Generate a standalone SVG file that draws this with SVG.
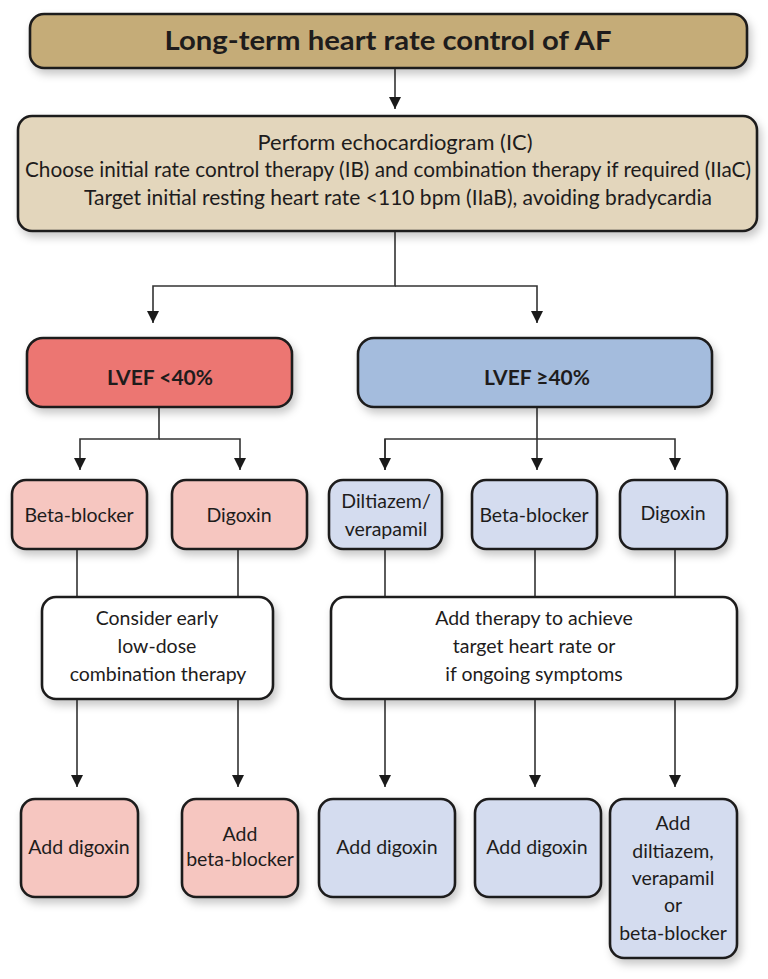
<svg xmlns="http://www.w3.org/2000/svg" width="768" height="979" viewBox="0 0 768 979">
<defs>
<filter id="sh" x="-20%" y="-20%" width="140%" height="150%">
<feDropShadow dx="3" dy="5" stdDeviation="4" flood-color="#000" flood-opacity="0.22"/>
</filter>
<marker id="ah" viewBox="0 0 12 12" refX="12" refY="6" markerWidth="12" markerHeight="12" markerUnits="userSpaceOnUse" orient="auto">
<path d="M0,0 L12,6 L0,12 Z" fill="#1a1a1a"/>
</marker>
</defs>
<style>
.box{stroke:#1e1c1c;stroke-width:2.6;filter:url(#sh)}
.t{font-family:Lato,"Open Sans",sans-serif;font-size:19.5px;fill:#1e1c1c;text-anchor:middle}
.b{font-weight:bold}
.big{font-size:27px}
.mid{font-size:20.5px}
.lv{font-size:21px}
.c{fill:none;stroke:#333;stroke-width:1.6}
.red{fill:#ec7672}
.blue{fill:#a4bcdd}
.pink{fill:#f6c6c0}
.lblue{fill:#d4dcef}
.white{fill:#fff}
</style>
<rect width="768" height="979" fill="#fff"/>
<g id="connectors">
<path class="c" d="M395,68 V109" marker-end="url(#ah)"/>
<path class="c" d="M395,231 V286 H153 V323" marker-end="url(#ah)"/>
<path class="c" d="M395,286 H537 V323" marker-end="url(#ah)"/>
<path class="c" d="M159,407 V439 H80 V470" marker-end="url(#ah)"/>
<path class="c" d="M159,439 H240 V470" marker-end="url(#ah)"/>
<path class="c" d="M537,407 V470" marker-end="url(#ah)"/>
<path class="c" d="M385,470 V439 H675 V470" marker-end="url(#ah)"/>
<path class="c" d="M385,439 V470" marker-end="url(#ah)"/>
<path class="c" d="M77,549 V597"/>
<path class="c" d="M238,549 V597"/>
<path class="c" d="M385,549 V597"/>
<path class="c" d="M535,549 V597"/>
<path class="c" d="M675,549 V597"/>
<path class="c" d="M77,699 V787" marker-end="url(#ah)"/>
<path class="c" d="M238,699 V787" marker-end="url(#ah)"/>
<path class="c" d="M385,699 V787" marker-end="url(#ah)"/>
<path class="c" d="M535,699 V787" marker-end="url(#ah)"/>
<path class="c" d="M675,699 V787" marker-end="url(#ah)"/>
</g>
<g id="title">
<rect class="box" x="30" y="14" width="717" height="54" rx="14" fill="#c5ac78"/>
<text class="t b big" x="388" y="50" textLength="447" lengthAdjust="spacingAndGlyphs">Long-term heart rate control of AF</text>
</g>
<g id="initial">
<rect class="box" x="18" y="116" width="739" height="115" rx="14" fill="#e3d6bc"/>
<text class="t mid" x="395" y="150" textLength="275" lengthAdjust="spacingAndGlyphs">Perform echocardiogram (IC)</text>
<text class="t mid" x="388" y="177" textLength="726" lengthAdjust="spacingAndGlyphs">Choose initial rate control therapy (IB) and combination therapy if required (IIaC)</text>
<text class="t mid" x="398" y="205" textLength="628" lengthAdjust="spacingAndGlyphs">Target initial resting heart rate &lt;110 bpm (IIaB), avoiding bradycardia</text>
</g>
<g id="lvef-low">
<rect class="box red" x="27" y="338" width="265" height="69" rx="16"/>
<text class="t b lv" x="160" y="385">LVEF &lt;40%</text>
</g>
<g id="lvef-high">
<rect class="box blue" x="358" y="338" width="354" height="69" rx="16"/>
<text class="t b lv" x="537" y="385">LVEF ≥40%</text>
</g>
<g id="bb-low">
<rect class="box pink" x="12" y="480" width="135" height="69" rx="14"/>
<text class="t" x="79" y="522">Beta-blocker</text>
</g>
<g id="dig-low">
<rect class="box pink" x="172" y="480" width="135" height="69" rx="14"/>
<text class="t" x="239" y="522">Digoxin</text>
</g>
<g id="dilt">
<rect class="box lblue" x="329" y="480" width="113" height="69" rx="14"/>
<text class="t" x="386" y="508">Diltiazem/</text>
<text class="t" x="386" y="536">verapamil</text>
</g>
<g id="bb-high">
<rect class="box lblue" x="472" y="480" width="125" height="69" rx="14"/>
<text class="t" x="534" y="522">Beta-blocker</text>
</g>
<g id="dig-high">
<rect class="box lblue" x="620" y="480" width="107" height="69" rx="14"/>
<text class="t" x="673" y="520">Digoxin</text>
</g>
<g id="consider">
<rect class="box white" x="42" y="597" width="231" height="102" rx="14"/>
<text class="t" x="157" y="625">Consider early</text>
<text class="t" x="157" y="653">low-dose</text>
<text class="t" x="158" y="681">combination therapy</text>
</g>
<g id="add-therapy">
<rect class="box white" x="331" y="597" width="406" height="102" rx="14"/>
<text class="t" x="534" y="625">Add therapy to achieve</text>
<text class="t" x="534" y="653">target heart rate or</text>
<text class="t" x="534" y="681">if ongoing symptoms</text>
</g>
<g id="add-dig-1">
<rect class="box pink" x="21" y="799" width="117" height="98" rx="14"/>
<text class="t" x="79" y="854">Add digoxin</text>
</g>
<g id="add-bb">
<rect class="box pink" x="182" y="799" width="116" height="98" rx="14"/>
<text class="t" x="240" y="841">Add</text>
<text class="t" x="240" y="866">beta-blocker</text>
</g>
<g id="add-dig-2">
<rect class="box lblue" x="319" y="799" width="136" height="98" rx="14"/>
<text class="t" x="387" y="854">Add digoxin</text>
</g>
<g id="add-dig-3">
<rect class="box lblue" x="475" y="799" width="126" height="98" rx="14"/>
<text class="t" x="537" y="854">Add digoxin</text>
</g>
<g id="add-dilt">
<rect class="box lblue" x="610" y="799" width="127" height="159" rx="14"/>
<text class="t" x="673" y="830">Add</text>
<text class="t" x="673" y="858">diltiazem,</text>
<text class="t" x="673" y="885">verapamil</text>
<text class="t" x="673" y="912">or</text>
<text class="t" x="673" y="940">beta-blocker</text>
</g>
</svg>
